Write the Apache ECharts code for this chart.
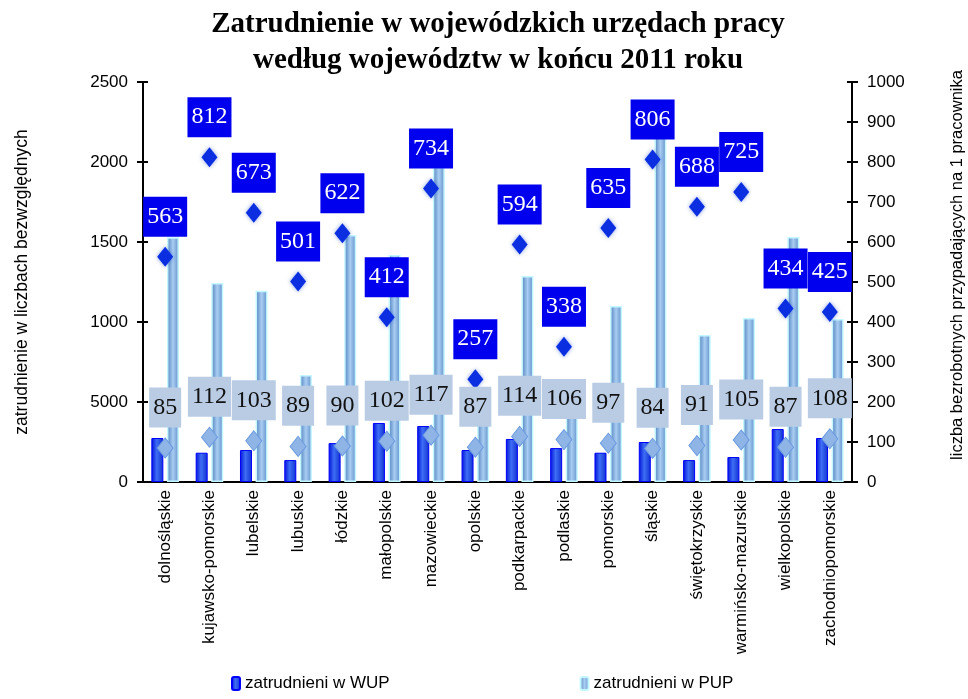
<!DOCTYPE html>
<html>
<head>
<meta charset="utf-8">
<script src="https://cdn.jsdelivr.net/npm/echarts@6/dist/echarts.min.js"></script>
<style>
  html, body { margin: 0; padding: 0; background: #fff; }
  #chart { width: 968px; height: 699px; }
</style>
</head>
<body>
<div id="chart"></div>
<script>
// województwa
const regions = ['dolnośląskie', 'kujawsko-pomorskie', 'lubelskie', 'lubuskie', 'łódzkie', 'małopolskie',
  'mazowieckie', 'opolskie', 'podkarpackie', 'podlaskie', 'pomorskie', 'śląskie', 'świętokrzyskie',
  'warmińsko-mazurskie', 'wielkopolskie', 'zachodniopomorskie']

// zatrudnienie (lewa oś)
const wupStaff = [275, 183, 200, 137, 243, 369, 350, 200, 269, 212, 183, 250, 137, 156, 331, 275]
const pupStaff = [1530, 1244, 1196, 669, 1544, 1419, 1970, 560, 1288, 600, 1100, 2190, 919, 1025, 1531, 1019]

// bezrobotni na 1 pracownika (prawa oś)
const wupRatio = [563, 812, 673, 501, 622, 412, 734, 257, 594, 338, 635, 806, 688, 725, 434, 425]
const pupRatio = [85, 112, 103, 89, 90, 102, 117, 87, 114, 106, 97, 84, 91, 105, 87, 108]

// etykiety lewej osi (jak w oryginale)
const leftTickLabels = ['0', '5000', '1000', '1500', '2000', '2500']

const chart = echarts.init(document.getElementById('chart'))

const sans = 'Liberation Sans'
const serif = 'Liberation Serif'

const ratioLabel = (bg, fg) => ({
  show: true,
  position: 'top',
  distance: 10,
  opacity: 1,
  backgroundColor: bg,
  color: fg,
  fontFamily: serif,
  fontSize: 24,
  lineHeight: 26,
  padding: [7, 4, 7, 4],
})

const option = {
  animation: false,
  title: {
    text: 'Zatrudnienie w wojewódzkich urzędach pracy\nwedług województw w końcu 2011 roku',
    left: 493,
    textAlign: 'center',
    top: 2,
    textStyle: {
      fontFamily: serif,
      fontWeight: 'bold',
      fontSize: 29,
      lineHeight: 36,
      color: '#000',
    },
  },
  legend: {
    bottom: 2,
    left: 226,
    itemGap: 190,
    itemWidth: 8,
    itemHeight: 13,
    textStyle: { fontFamily: sans, fontSize: 17, color: '#000' },
    data: ['zatrudnieni w WUP', 'zatrudnieni w PUP'],
  },
  grid: {
    left: 143,
    right: 116,
    top: 82,
    bottom: 217,
    outerBoundsMode: 'none',
  },
  xAxis: [
    {
      type: 'category',
      data: regions,
      axisLine: { lineStyle: { color: '#000', width: 2 } },
      axisTick: { interval: 0, length: 5, lineStyle: { color: '#000', width: 2 } },
      axisLabel: {
        interval: 0,
        rotate: 90,
        margin: 8,
        fontFamily: sans,
        fontSize: 17,
        color: '#000',
      },
    },
    {
      type: 'category',
      data: regions,
      position: 'bottom',
      axisLine: { show: false },
      axisTick: { inside: true, interval: 0, length: 5, lineStyle: { color: '#000', width: 2 } },
      axisLabel: { show: false },
    },
  ],
  yAxis: [
    {
      type: 'value',
      min: 0,
      max: 2500,
      interval: 500,
      position: 'left',
      name: 'zatrudnienie w liczbach bezwzględnych',
      nameLocation: 'middle',
      nameGap: 112,
      nameRotate: 90,
      nameTextStyle: { fontFamily: sans, fontSize: 17.5, color: '#000' },
      axisLine: { show: true, lineStyle: { color: '#000', width: 2 } },
      axisTick: { show: true, length: 6, lineStyle: { color: '#000', width: 2 } },
      axisLabel: {
        fontFamily: sans,
        fontSize: 17,
        color: '#000',
        margin: 15,
        formatter: (v) => leftTickLabels[Math.round(v / 500)],
      },
      splitLine: { show: false },
    },
    {
      type: 'value',
      min: 0,
      max: 2500,
      interval: 500,
      position: 'left',
      axisLine: { show: false },
      axisTick: { show: true, inside: true, length: 5, lineStyle: { color: '#000', width: 2 } },
      axisLabel: { show: false },
      splitLine: { show: false },
    },
    {
      type: 'value',
      min: 0,
      max: 1000,
      interval: 100,
      position: 'right',
      name: 'liczba bezrobotnych przypadających na 1 pracownika',
      nameLocation: 'middle',
      nameGap: 97,
      nameRotate: 90,
      nameTextStyle: { fontFamily: sans, fontSize: 16.5, color: '#000', padding: [0, 0, 0, 34] },
      axisLine: { show: true, lineStyle: { color: '#000', width: 2 } },
      axisTick: { show: true, length: 6, lineStyle: { color: '#000', width: 2 } },
      axisLabel: { fontFamily: sans, fontSize: 17, color: '#000', margin: 15, formatter: (v) => String(v) },
      splitLine: { show: false },
    },
    {
      type: 'value',
      min: 0,
      max: 1000,
      interval: 100,
      position: 'right',
      axisLine: { show: false },
      axisTick: { show: true, inside: true, length: 5, lineStyle: { color: '#000', width: 2 } },
      axisLabel: { show: false },
      splitLine: { show: false },
    },
  ],
  series: [
    {
      name: 'zatrudnieni w WUP',
      type: 'bar',
      yAxisIndex: 0,
      data: wupStaff,
      barWidth: 12,
      barGap: '30%',
      itemStyle: {
        color: {
          type: 'linear', x: 0, y: 0, x2: 1, y2: 0,
          colorStops: [
            { offset: 0, color: '#0010d8' },
            { offset: 0.45, color: '#3f6ef5' },
            { offset: 1, color: '#1030d0' },
          ],
        },
        borderColor: '#0000ff',
        borderWidth: 1,
      },
    },
    {
      name: 'zatrudnieni w PUP',
      type: 'bar',
      yAxisIndex: 0,
      data: pupStaff,
      barWidth: 12,
      itemStyle: {
        color: {
          type: 'linear', x: 0, y: 0, x2: 1, y2: 0,
          colorStops: [
            { offset: 0, color: '#4f7fbc' },
            { offset: 0.5, color: '#a9cdf2' },
            { offset: 1, color: '#5f8ec8' },
          ],
        },
        borderColor: '#c4f6ff',
        borderWidth: 1.5,
      },
    },
    {
      name: 'WUP na 1 pracownika',
      type: 'scatter',
      yAxisIndex: 2,
      data: wupRatio,
      symbol: 'diamond',
      symbolSize: [16, 20],
      itemStyle: {
        opacity: 1,
        color: '#0a2ee0',
        shadowColor: 'rgba(60,100,220,0.6)',
        shadowBlur: 4,
      },
      label: ratioLabel('#0000ee', '#fff'),
      z: 5,
    },
    {
      name: 'PUP na 1 pracownika',
      type: 'scatter',
      yAxisIndex: 2,
      data: pupRatio,
      symbol: 'diamond',
      symbolSize: [16, 20],
      itemStyle: {
        opacity: 1,
        color: '#8fb4e6',
        borderColor: '#6d9be0',
        borderWidth: 1,
      },
      label: ratioLabel('#b9cce4', '#111'),
      z: 5,
    },
  ],
}

chart.setOption(option)
</script>
</body>
</html>
